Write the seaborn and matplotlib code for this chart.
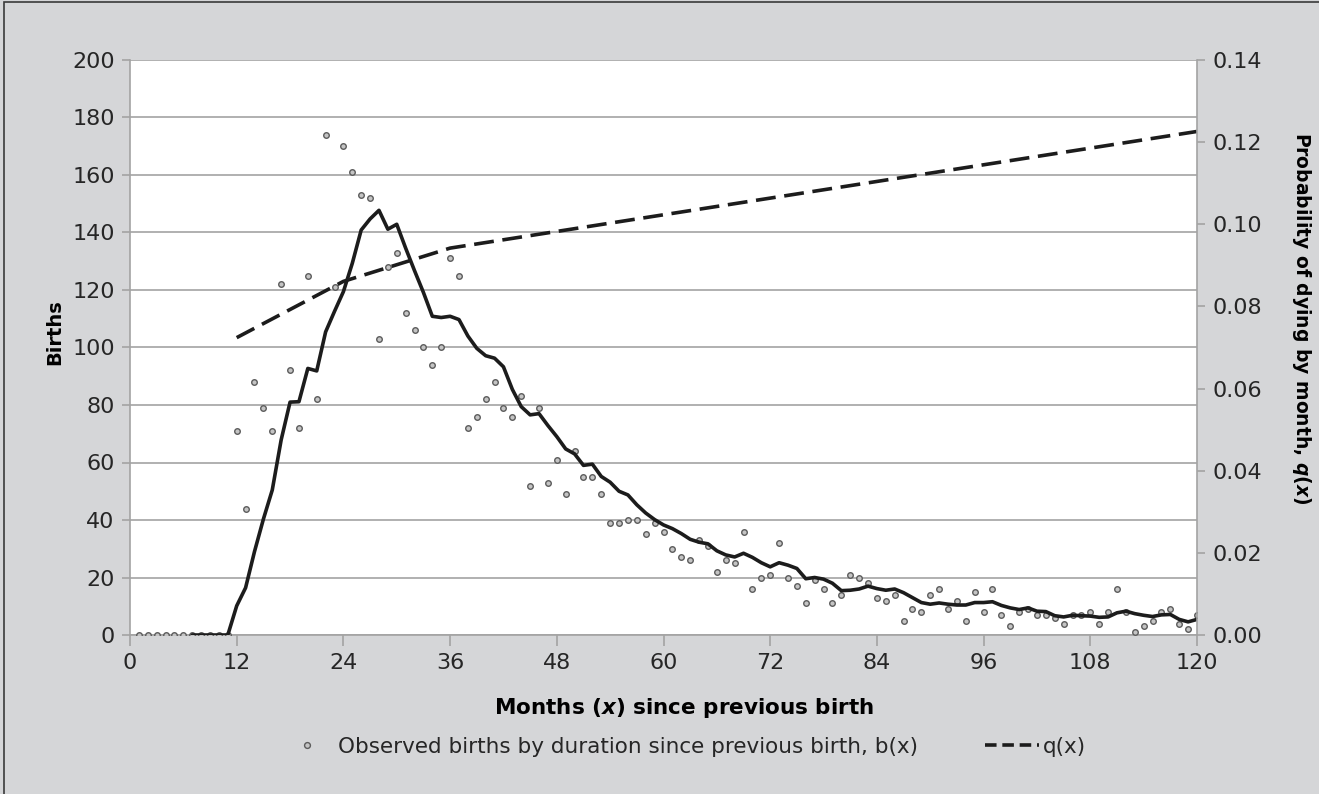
import matplotlib
matplotlib.use("Agg")
import numpy as np
import pandas as pd
import matplotlib.pyplot as plt
import seaborn as sns
from matplotlib.lines import Line2D
from matplotlib.patches import Rectangle

# === Données ===
months = list(range(1, 121))
births = [0, 0, 0, 0, 0, 0, 0, 0, 0, 0, 0,            # 1-11
          71, 44, 88, 79, 71, 122, 92, 72, 125, 82,   # 12-21
          174, 121, 170, 161, 153, 152, 103, 128, 133, 112,  # 22-31
          106, 100, 94, 100, 131, 125, 72, 76, 82, 88,  # 32-41
          79, 76, 83, 52, 79, 53, 61, 49, 64, 55,     # 42-51
          55, 49, 39, 39, 40, 40, 35, 39, 36, 30,     # 52-61
          27, 26, 33, 31, 22, 26, 25, 36, 16, 20,     # 62-71
          21, 32, 20, 17, 11, 19, 16, 11, 14, 21,     # 72-81
          20, 18, 13, 12, 14, 5, 9, 8, 14, 16,        # 82-91
          9, 12, 5, 15, 8, 16, 7, 3, 8, 9,            # 92-101
          7, 7, 6, 4, 7, 7, 8, 4, 8, 16,              # 102-111
          8, 1, 3, 5, 8, 9, 4, 2, 7]                  # 112-120

q_months = [12, 24, 36, 120]
q_values = [0.0724, 0.0861, 0.0942, 0.1226]

x_ticks = list(range(0, 121, 12))
left_ticks = list(range(0, 201, 20))
right_ticks = [0.00, 0.02, 0.04, 0.06, 0.08, 0.10, 0.12, 0.14]

# moyenne mobile sur 7 mois (courbe pleine)
df = pd.DataFrame({"month": months, "births": births})
df["smooth"] = df["births"].rolling(7).mean()

# === Style ===
sns.set_theme(style="white")
plt.rcParams["font.family"] = ["DejaVu Sans"]
plt.rcParams["mathtext.fontset"] = "custom"
plt.rcParams["mathtext.it"] = "DejaVu Sans:italic:bold"
plt.rcParams["mathtext.rm"] = "DejaVu Sans:bold"

bg = "#d5d6d8"
grid_c = "#a3a3a3"
ink = "#1c1c1c"
txt = "#262626"
tick_fs = 16

fig = plt.figure(figsize=(13.19, 7.94), dpi=100, facecolor=bg)
ax = fig.add_axes([130 / 1319, 1 - 635 / 794, 1067 / 1319, 575 / 794])
ax.set_facecolor("white")
ax.set_axisbelow(True)

sns.scatterplot(data=df, x="month", y="births", ax=ax, s=16, color="#c4c4c4",
                edgecolor="#5c5c5c", linewidth=1.0, zorder=3, legend=False)
sns.lineplot(data=df.dropna(), x="month", y="smooth", ax=ax, color=ink, lw=2.6, zorder=4)

ax.set_xlim(0, 120)
ax.set_ylim(0, 200)
ax.set_xticks(x_ticks)
ax.set_yticks(left_ticks)
ax.yaxis.grid(True, color=grid_c, lw=1.2)
ax.xaxis.grid(False)
ax.set_xlabel("")
ax.set_ylabel("")
for s in ["left", "bottom"]:
    ax.spines[s].set_color(grid_c)
    ax.spines[s].set_linewidth(1.2)
ax.spines["top"].set_visible(False)
ax.spines["right"].set_visible(False)
ax.tick_params(axis="x", bottom=True, direction="out", length=8, width=1.2,
               color=grid_c, labelsize=tick_fs, labelcolor=txt, pad=5)
ax.tick_params(axis="y", left=True, direction="out", length=6, width=1.2,
               color=grid_c, labelsize=tick_fs, labelcolor=txt, pad=5)

# === Axe droit : q(x) ===
ax2 = ax.twinx()
sns.lineplot(x=q_months, y=q_values, ax=ax2, color=ink, lw=2.6)
ax2.lines[0].set_linestyle((0, (5.5, 2.4)))
ax2.set_ylim(0, 0.14)
ax2.set_yticks(right_ticks)
ax2.set_yticklabels([f"{v:.2f}" for v in right_ticks])
ax2.set_ylabel("")
for s in ["left", "top", "bottom"]:
    ax2.spines[s].set_visible(False)
ax2.spines["right"].set_color(grid_c)
ax2.spines["right"].set_linewidth(1.2)
ax2.tick_params(axis="y", right=True, direction="out", length=6, width=1.2,
                color=grid_c, labelsize=tick_fs, labelcolor=txt, pad=5)

# === Titres des axes ===
fig.text(55 / 1319, 1 - 332 / 794, "Births", rotation=90, ha="center", va="center",
         fontsize=14, fontweight="bold", color="black")
fig.text(1302 / 1319, 1 - 318 / 794, r"Probability of dying by month, $q$($x$)",
         rotation=-90, ha="center", va="center", fontsize=13.5, fontweight="bold", color="black")
fig.text(684 / 1319, 1 - 708 / 794, r"Months ($x$) since previous birth",
         ha="center", va="center", fontsize=15.5, fontweight="bold", color="black")

# === Légende ===
handles = [
    Line2D([], [], marker="o", ls="none", ms=4.2, mfc="#c4c4c4", mec="#5c5c5c", mew=1.0),
    Line2D([], [], color=ink, lw=2.6, ls=(0, (3.2, 1.6))),
]
labels = ["Observed births by duration since previous birth, b(x)", "q(x)"]
fig.legend(handles, labels, loc="center", bbox_to_anchor=(683 / 1319, 1 - 747 / 794),
           ncol=2, frameon=False, fontsize=15.5, handlelength=2.5, handletextpad=0.2,
           columnspacing=3.1, labelcolor=txt)

# cadre de la figure
fig.patches.append(Rectangle((4 / 1319, -0.05), 2, 1.05 - 2 / 794, transform=fig.transFigure,
                             fill=False, ec="#3a3a3a", lw=1.2))

fig.savefig("out.png", dpi=100, facecolor=bg)
